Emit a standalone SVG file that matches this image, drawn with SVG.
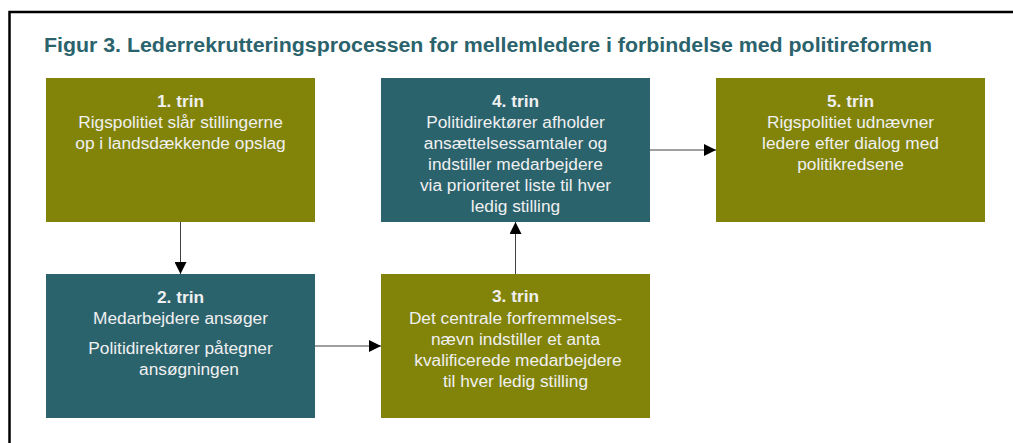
<svg xmlns="http://www.w3.org/2000/svg" width="1013" height="443" viewBox="0 0 1013 443">
  <style>
    .olive { fill: #818409; }
    .teal { fill: #2b636d; }
    .t { font-family: "Liberation Sans", Arial, sans-serif; font-size: 17.3px; fill: #f0f0f0; text-anchor: middle; }
    .b { font-weight: bold; }
    .title { font-family: "Liberation Sans", Arial, sans-serif; font-size: 20.5px; font-weight: bold; fill: #2b636d; }
    .conn { stroke: #404040; stroke-width: 1; fill: none; }
  </style>
  <defs>
    <marker id="arr" viewBox="0 0 12 12" refX="12" refY="6" markerWidth="12" markerHeight="12" markerUnits="userSpaceOnUse" orient="auto">
      <path d="M0,0 L12,6 L0,12 Z" fill="#000"/>
    </marker>
  </defs>
  <rect x="0" y="0" width="1013" height="443" fill="#fff"/>
  <rect x="9.5" y="12" width="1020" height="450" fill="none" stroke="#000" stroke-width="2.5"/>
  <text class="title" x="44" y="52" textLength="888" lengthAdjust="spacingAndGlyphs">Figur 3. Lederrekrutteringsprocessen for mellemledere i forbindelse med politireformen</text>

  <g id="connectors">
    <line class="conn" x1="180.5" y1="222" x2="180.5" y2="274" marker-end="url(#arr)"/>
    <line class="conn" x1="315" y1="346" x2="381" y2="346" marker-end="url(#arr)"/>
    <line class="conn" x1="515.5" y1="274" x2="515.5" y2="222" marker-end="url(#arr)"/>
    <line class="conn" x1="650" y1="150" x2="716" y2="150" marker-end="url(#arr)"/>
  </g>

  <g id="step1">
    <rect class="olive" x="46" y="78" width="269" height="144"/>
    <text class="t b" x="180.5" y="106.5">1. trin</text>
    <text class="t" x="180.5" y="127.5">Rigspolitiet slår stillingerne</text>
    <text class="t" x="180.5" y="148.5">op i landsdækkende opslag</text>
  </g>

  <g id="step2">
    <rect class="teal" x="46" y="274" width="269" height="144"/>
    <text class="t b" x="180.5" y="302.5">2. trin</text>
    <text class="t" x="180.5" y="323.5">Medarbejdere ansøger</text>
    <text class="t" x="180.5" y="353.5">Politidirektører påtegner</text>
    <text class="t" x="189" y="374.5">ansøgningen</text>
  </g>

  <g id="step3">
    <rect class="olive" x="381" y="274" width="269" height="144"/>
    <text class="t b" x="515.5" y="302">3. trin</text>
    <text class="t" x="515.5" y="323.5">Det centrale forfremmelses-</text>
    <text class="t" x="515.5" y="344.5">nævn indstiller et anta</text>
    <text class="t" x="518" y="365.5">kvalificerede medarbejdere</text>
    <text class="t" x="515.5" y="386.5">til hver ledig stilling</text>
  </g>

  <g id="step4">
    <rect class="teal" x="381" y="78" width="269" height="144"/>
    <text class="t b" x="515.5" y="106.5">4. trin</text>
    <text class="t" x="515.5" y="127.5">Politidirektører afholder</text>
    <text class="t" x="515.5" y="149">ansættelsessamtaler og</text>
    <text class="t" x="515.5" y="170">indstiller medarbejdere</text>
    <text class="t" x="515.5" y="191">via prioriteret liste til hver</text>
    <text class="t" x="515.5" y="212">ledig stilling</text>
  </g>

  <g id="step5">
    <rect class="olive" x="716" y="78" width="269" height="144"/>
    <text class="t b" x="850.5" y="106.5">5. trin</text>
    <text class="t" x="850.5" y="128">Rigspolitiet udnævner</text>
    <text class="t" x="850.5" y="149">ledere efter dialog med</text>
    <text class="t" x="850.5" y="170">politikredsene</text>
  </g>
</svg>
